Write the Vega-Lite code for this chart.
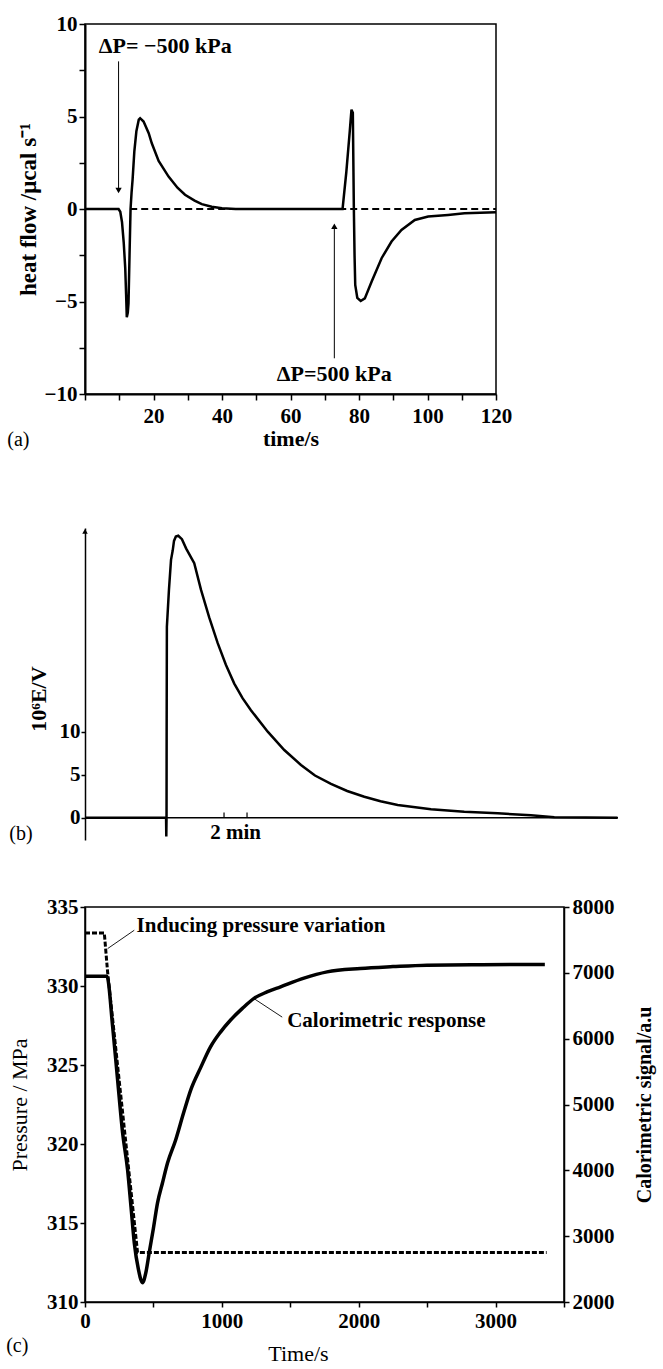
{
 "$schema": "https://vega.github.io/schema/vega-lite/v6.json",
 "background": "white",
 "padding": {"left": 5, "top": 12, "right": 5, "bottom": 0},
 "config": {
  "font": "Liberation Serif",
  "view": {"stroke": null},
  "axis": {"labelFont": "Liberation Serif", "labelFontWeight": "bold", "labelFontSize": 21, "labelColor": "black", "titleFont": "Liberation Serif", "titleFontSize": 22, "titleColor": "black", "domainColor": "black", "tickColor": "black", "domainWidth": 1.5, "tickWidth": 1.5, "grid": false, "labelFlush": false, "labelOverlap": false},
  "text": {"font": "Liberation Serif", "color": "black"}
 },
 "datasets": {
  "a_curve": [
   {"i":0,"t":0,"v":0},{"i":1,"t":9.8,"v":0},{"i":2,"t":10.3,"v":-0.15},{"i":3,"t":10.8,"v":-0.7},{"i":4,"t":11.3,"v":-1.8},{"i":5,"t":11.75,"v":-3.2},{"i":6,"t":12.0,"v":-4.6},{"i":7,"t":12.2,"v":-5.85},{"i":8,"t":12.5,"v":-5.6},{"i":9,"t":12.7,"v":-5.1},{"i":10,"t":13.0,"v":-2.5},{"i":11,"t":13.3,"v":0},{"i":12,"t":13.6,"v":0.9},{"i":13,"t":13.9,"v":1.6},{"i":14,"t":14.4,"v":3.1},{"i":15,"t":15.0,"v":4.2},{"i":16,"t":15.7,"v":4.83},{"i":17,"t":16.1,"v":4.91},{"i":18,"t":17.1,"v":4.73},{"i":19,"t":18.6,"v":4.1},{"i":20,"t":19.5,"v":3.55},{"i":21,"t":21.5,"v":2.6},{"i":22,"t":24.4,"v":1.75},{"i":23,"t":27,"v":1.15},{"i":24,"t":29.2,"v":0.77},{"i":25,"t":32,"v":0.45},{"i":26,"t":34.1,"v":0.26},{"i":27,"t":37,"v":0.12},{"i":28,"t":40,"v":0.04},{"i":29,"t":44,"v":0},{"i":30,"t":75.2,"v":0},{"i":31,"t":76.3,"v":2.0},{"i":32,"t":77.3,"v":4.2},{"i":33,"t":77.8,"v":5.37},{"i":34,"t":78.2,"v":5.2},{"i":35,"t":78.5,"v":0},{"i":36,"t":78.7,"v":-2.5},{"i":37,"t":78.9,"v":-4.1},{"i":38,"t":79.5,"v":-4.8},{"i":39,"t":80.5,"v":-4.97},{"i":40,"t":81.7,"v":-4.83},{"i":41,"t":83.7,"v":-3.92},{"i":42,"t":86.6,"v":-2.66},{"i":43,"t":89.5,"v":-1.76},{"i":44,"t":92.4,"v":-1.13},{"i":45,"t":96.3,"v":-0.59},{"i":46,"t":100.2,"v":-0.41},{"i":47,"t":106,"v":-0.32},{"i":48,"t":110.8,"v":-0.23},{"i":49,"t":120,"v":-0.17}
  ],
  "a_dash": [{"t":13.2,"v":0},{"t":120,"v":0}],
  "a_arrows": [{"t":9.8,"v":7.98,"v2":1.0},{"t":72.8,"v":-8.07,"v2":-0.93}],
  "a_head_down": [{"t":9.8,"v":1.0}],
  "a_head_up": [{"t":72.8,"v":-0.93}],
  "a_text": [{"t":4.0,"v":8.82,"label":"ΔP= −500 kPa"},{"t":56.0,"v":-8.9,"label":"ΔP=500 kPa"}],
  "a_label": [{"t":-22.7,"v":-12.47,"label":"(a)"}],
  "b_axisline": [{"t":0,"t2":46.35,"v":0}],
  "b_curve": [
   {"i":0,"t":0,"v":0},{"i":1,"t":7.05,"v":0},{"i":2,"t":7.07,"v":-2.2},{"i":3,"t":7.09,"v":0},{"i":4,"t":7.1,"v":10},{"i":5,"t":7.12,"v":22.2},{"i":6,"t":7.3,"v":26.5},{"i":7,"t":7.48,"v":30.0},{"i":8,"t":7.63,"v":31.1},{"i":9,"t":7.74,"v":32.2},{"i":10,"t":7.9,"v":32.7},{"i":11,"t":8.11,"v":32.8},{"i":12,"t":8.43,"v":32.4},{"i":13,"t":8.8,"v":31.3},{"i":14,"t":9.5,"v":29.6},{"i":15,"t":10.09,"v":26.5},{"i":16,"t":10.8,"v":23.3},{"i":17,"t":11.54,"v":20.3},{"i":18,"t":12.25,"v":17.8},{"i":19,"t":12.98,"v":15.6},{"i":20,"t":13.7,"v":13.9},{"i":21,"t":14.43,"v":12.5},{"i":22,"t":15.89,"v":10.0},{"i":23,"t":17.33,"v":7.87},{"i":24,"t":18.78,"v":6.13},{"i":25,"t":20.0,"v":4.9},{"i":26,"t":21.39,"v":3.92},{"i":27,"t":22.8,"v":3.1},{"i":28,"t":24.29,"v":2.44},{"i":29,"t":25.7,"v":1.9},{"i":30,"t":27.19,"v":1.48},{"i":31,"t":30.09,"v":0.98},{"i":32,"t":32.98,"v":0.7},{"i":33,"t":35.89,"v":0.51},{"i":34,"t":38.78,"v":0.28},{"i":35,"t":40.81,"v":0.05},{"i":36,"t":46.31,"v":0}
  ],
  "b_ticks": [{"t":12.09,"v":0,"v2":0.6},{"t":14.09,"v":0,"v2":0.6}],
  "b_head": [{"t":0,"v":33.3}],
  "b_text": [{"t":13.1,"v":-1.8,"label":"2 min"}],
  "b_label": [{"t":-6.58,"v":-1.9,"label":"(b)"}],
  "b_ytitle": [{"t":-4.03,"v":13.8,"label":"10⁶E/V"}],
  "c_solid": [
   {"t":0,"s":6950},{"t":160,"s":6950},{"t":202,"s":6182},{"t":238,"s":5380},{"t":275,"s":4567},{"t":311,"s":4011},{"t":336,"s":3450},{"t":360,"s":2900},{"t":390,"s":2500},{"t":420,"s":2294},{"t":445,"s":2450},{"t":469,"s":2748},{"t":500,"s":3120},{"t":530,"s":3506},{"t":565,"s":3800},{"t":603,"s":4112},{"t":663,"s":4465},{"t":720,"s":4870},{"t":773,"s":5223},{"t":845,"s":5560},{"t":918,"s":5879},{"t":990,"s":6100},{"t":1064,"s":6283},{"t":1150,"s":6460},{"t":1235,"s":6612},{"t":1330,"s":6710},{"t":1429,"s":6788},{"t":1600,"s":6920},{"t":1769,"s":7015},{"t":2012,"s":7067},{"t":2250,"s":7095},{"t":2498,"s":7117},{"t":2900,"s":7124},{"t":3360,"s":7127}
  ],
  "c_dash": [{"t":0,"p":333.36},{"t":141,"p":333.36},{"t":165,"p":330.9},{"t":384,"p":313.13},{"t":3373,"p":313.13}],
  "c_leaders": [{"t":166,"p":332.37,"t2":360,"p2":333.53},{"t":1235,"p":329.2,"t2":1441,"p2":328.03}],
  "c_text": [{"t":377,"p":333.82,"label":"Inducing pressure variation"},{"t":1477,"p":327.8,"label":"Calorimetric response"}],
  "c_label": [{"t":-576,"p":307.2,"label":"(c)"}]
 },
 "spacing": 51,
 "vconcat": [
  {
   "spacing": 77,
   "vconcat": [
    {
     "width": 411, "height": 370,
     "view": {"stroke": "black", "strokeWidth": 1.5},
     "encoding": {
      "x": {"field": "t", "type": "quantitative", "scale": {"domain": [0, 120], "nice": false}, "title": "time/s",
        "axis": {"values": [0,10,20,30,40,50,60,70,80,90,100,110,120], "labelExpr": "datum.value > 0 && datum.value % 20 == 0 ? datum.label : ''", "tickSize": 6, "labelPadding": 5, "titleFontWeight": "bold", "titlePadding": 2, "domainWidth": 2}},
      "y": {"field": "v", "type": "quantitative", "scale": {"domain": [-10, 10], "nice": false}, "title": "heat flow /μcal s⁻¹",
        "axis": {"values": [-10,-7.5,-5,-2.5,0,2.5,5,7.5,10], "labelExpr": "datum.value % 5 == 0 ? datum.label : ''", "tickSize": 6, "labelPadding": 2, "titleFontWeight": "bold", "titleFontSize": 23, "titlePadding": 4, "domainWidth": 2}}
     },
     "layer": [
      {"data": {"name": "a_dash"}, "mark": {"type": "line", "strokeDash": [7, 4], "strokeWidth": 2, "color": "black"}},
      {"data": {"name": "a_curve"}, "mark": {"type": "line", "strokeWidth": 2.5, "color": "black"}, "encoding": {"order": {"field": "i", "type": "quantitative"}}},
      {"data": {"name": "a_arrows"}, "mark": {"type": "rule", "strokeWidth": 1, "color": "black"}, "encoding": {"y2": {"field": "v2"}}},
      {"data": {"name": "a_head_down"}, "mark": {"type": "point", "shape": "triangle-down", "filled": true, "size": 40, "color": "black", "opacity": 1}},
      {"data": {"name": "a_head_up"}, "mark": {"type": "point", "shape": "triangle-up", "filled": true, "size": 40, "color": "black", "opacity": 1}},
      {"data": {"name": "a_text"}, "mark": {"type": "text", "align": "left", "baseline": "middle", "fontWeight": "bold", "fontSize": 22}, "encoding": {"text": {"field": "label"}}},
      {"data": {"name": "a_label"}, "mark": {"type": "text", "align": "left", "baseline": "middle", "fontSize": 20}, "encoding": {"text": {"field": "label"}}}
     ]
    },
    {
     "width": 533, "height": 312,
     "encoding": {
      "x": {"field": "t", "type": "quantitative", "scale": {"domain": [0, 46.35], "nice": false}, "axis": null},
      "y": {"field": "v", "type": "quantitative", "scale": {"domain": [-2.6, 33.7], "nice": false}, "title": null,
        "axis": {"values": [0, 5, 10], "tickSize": 4, "labelPadding": 1, "domainWidth": 1.5}}
     },
     "layer": [
      {"data": {"name": "b_axisline"}, "mark": {"type": "rule", "strokeWidth": 1.5, "color": "black"}, "encoding": {"x2": {"field": "t2"}}},
      {"data": {"name": "b_curve"}, "mark": {"type": "line", "strokeWidth": 2.5, "color": "black"}, "encoding": {"order": {"field": "i", "type": "quantitative"}}},
      {"data": {"name": "b_ticks"}, "mark": {"type": "rule", "strokeWidth": 1.2, "color": "black"}, "encoding": {"y2": {"field": "v2"}}},
      {"data": {"name": "b_head"}, "mark": {"type": "point", "shape": "triangle-up", "filled": true, "size": 30, "color": "black", "opacity": 1}},
      {"data": {"name": "b_text"}, "mark": {"type": "text", "align": "center", "baseline": "middle", "fontWeight": "bold", "fontSize": 21}, "encoding": {"text": {"field": "label"}}},
      {"data": {"name": "b_label"}, "mark": {"type": "text", "align": "left", "baseline": "middle", "fontSize": 20}, "encoding": {"text": {"field": "label"}}},
      {"data": {"name": "b_ytitle"}, "mark": {"type": "text", "align": "center", "baseline": "middle", "fontWeight": "bold", "fontSize": 22, "angle": 270}, "encoding": {"text": {"field": "label"}}}
     ]
    }
   ]
  },
  {
   "width": 479, "height": 395,
   "view": {"stroke": "black", "strokeWidth": 1.5},
   "encoding": {
    "x": {"field": "t", "type": "quantitative", "scale": {"domain": [0, 3500], "nice": false}, "title": "Time/s",
      "axis": {"values": [0,500,1000,1500,2000,2500,3000,3500], "labelExpr": "datum.value % 1000 == 0 ? datum.label : ''", "format": "d", "tickSize": 5, "labelPadding": 3, "titleFontWeight": "normal", "titlePadding": 12, "titleX": 213}}
   },
   "resolve": {"scale": {"y": "independent"}, "axis": {"y": "independent"}},
   "layer": [
    {
     "encoding": {
      "y": {"field": "p", "type": "quantitative", "scale": {"domain": [310, 335], "nice": false}, "title": "Pressure / MPa",
        "axis": {"orient": "left", "values": [310, 315, 320, 325, 330, 335], "tickSize": 5, "labelPadding": 2, "titleFontWeight": "normal", "titlePadding": 15}}
     },
     "layer": [
      {"data": {"name": "c_dash"}, "mark": {"type": "line", "strokeDash": [5, 2], "strokeWidth": 3, "color": "black"}},
      {"data": {"name": "c_leaders"}, "mark": {"type": "rule", "strokeWidth": 0.9, "color": "black"}, "encoding": {"x2": {"field": "t2"}, "y2": {"field": "p2"}}},
      {"data": {"name": "c_text"}, "mark": {"type": "text", "align": "left", "baseline": "middle", "fontWeight": "bold", "fontSize": 21}, "encoding": {"text": {"field": "label"}}},
      {"data": {"name": "c_label"}, "mark": {"type": "text", "align": "left", "baseline": "middle", "fontSize": 20}, "encoding": {"text": {"field": "label"}}}
     ]
    },
    {
     "data": {"name": "c_solid"},
     "mark": {"type": "line", "strokeWidth": 3.5, "color": "black", "interpolate": "monotone"},
     "encoding": {
      "y": {"field": "s", "type": "quantitative", "scale": {"domain": [2000, 8000], "nice": false}, "title": "Calorimetric signal/a.u",
        "axis": {"orient": "right", "values": [2000, 3000, 4000, 5000, 6000, 7000, 8000], "format": "d", "tickSize": 5, "labelPadding": 3, "titleFontWeight": "bold", "titleFontSize": 20, "titleAngle": 270, "titleBaseline": "top", "titlePadding": 20}}
     }
    }
   ]
  }
 ]
}
